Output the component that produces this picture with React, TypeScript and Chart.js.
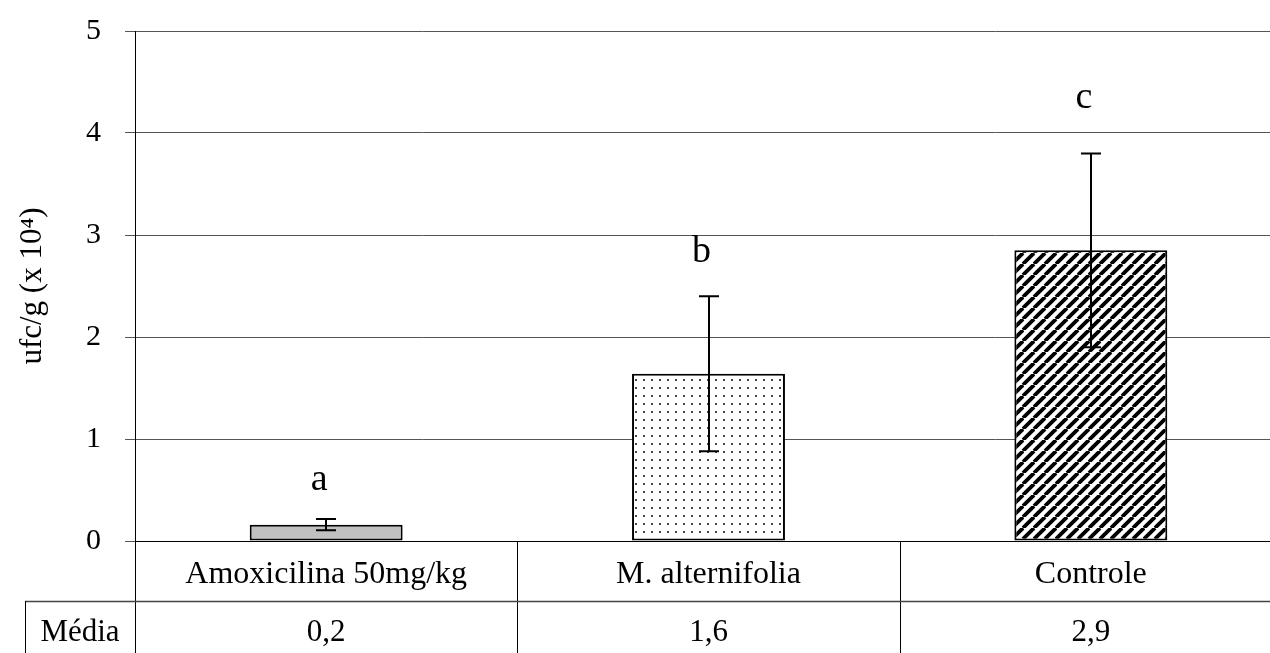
import React, { useEffect, useRef } from "react";
import { Chart, registerables } from "chart.js";

Chart.register(...registerables);

const categories = ["Amoxicilina 50mg/kg", "M. alternifolia", "Controle"];
const means = [0.16, 1.64, 2.85];
const errors = [0.055, 0.76, 0.95];
const letters = ["a", "b", "c"];
const letterLevels = [0.5, 2.74, 4.25];
const meanLabels = ["0,2", "1,6", "2,9"];
const rowLabel = "Média";
const yTitle = "ufc/g (x 10⁴)";
const yMin = 0;
const yMax = 5;
const yStep = 1;

const FONT = "'Liberation Serif', 'Times New Roman', serif";

function makeDots(): CanvasPattern | string {
  const c = document.createElement("canvas");
  c.width = 8;
  c.height = 8;
  const g = c.getContext("2d");
  if (!g) return "#eee";
  g.fillStyle = "#fff";
  g.fillRect(0, 0, 8, 8);
  g.fillStyle = "#444";
  g.fillRect(3, 3, 2, 2);
  return g.createPattern(c, "repeat") || "#eee";
}

function makeStripes(): CanvasPattern | string {
  const s = 11;
  const c = document.createElement("canvas");
  c.width = s;
  c.height = s;
  const g = c.getContext("2d");
  if (!g) return "#666";
  g.fillStyle = "#fff";
  g.fillRect(0, 0, s, s);
  g.strokeStyle = "#000";
  g.lineWidth = 3.8;
  for (const k of [-1, 0, 1]) {
    g.beginPath();
    g.moveTo(k * s, s);
    g.lineTo(k * s + s, 0);
    g.stroke();
  }
  return g.createPattern(c, "repeat") || "#666";
}

const overlayPlugin = {
  id: "overlay",
  afterDatasetsDraw(chart: any) {
    const { ctx, scales } = chart;
    const y = scales.y;
    const meta = chart.getDatasetMeta(0);
    ctx.save();
    ctx.strokeStyle = "#000";
    ctx.lineWidth = 2;
    meta.data.forEach((bar: any, i: number) => {
      const x = Math.round(bar.x);
      const top = y.getPixelForValue(means[i] + errors[i]);
      const bot = y.getPixelForValue(means[i] - errors[i]);
      ctx.beginPath();
      ctx.moveTo(x, top);
      ctx.lineTo(x, bot);
      ctx.moveTo(x - 10, top);
      ctx.lineTo(x + 10, top);
      ctx.moveTo(x - 10, bot);
      ctx.lineTo(x + 10, bot);
      ctx.stroke();
    });
    ctx.fillStyle = "#000";
    ctx.font = `38px ${FONT}`;
    ctx.textAlign = "center";
    ctx.textBaseline = "alphabetic";
    meta.data.forEach((bar: any, i: number) => {
      ctx.fillText(letters[i], bar.x - 7, y.getPixelForValue(letterLevels[i]));
    });
    ctx.restore();
  },
  afterDraw(chart: any) {
    const { ctx, chartArea, scales, height, width } = chart;
    const x = scales.x;
    const bottom = chartArea.bottom;
    const rowY = bottom + 60;
    ctx.save();
    ctx.strokeStyle = "#000";
    ctx.lineWidth = 1;
    ctx.beginPath();
    const ax = Math.round(chartArea.left) + 0.5;
    ctx.moveTo(ax, bottom);
    ctx.lineTo(ax, height);
    for (let i = 0; i < categories.length; i++) {
      const bx = Math.round(x.getPixelForValue(i + 0.5)) + 0.5;
      ctx.moveTo(bx, bottom);
      ctx.lineTo(bx, height);
    }
    ctx.stroke();
    ctx.strokeStyle = "#444";
    ctx.lineWidth = 1.5;
    ctx.beginPath();
    ctx.moveTo(25, rowY + 0.5);
    ctx.lineTo(width, rowY + 0.5);
    ctx.stroke();
    ctx.strokeStyle = "#000";
    ctx.lineWidth = 1;
    ctx.beginPath();
    ctx.moveTo(25.5, rowY);
    ctx.lineTo(25.5, height);
    ctx.stroke();

    ctx.fillStyle = "#000";
    ctx.font = `31px ${FONT}`;
    ctx.textAlign = "center";
    ctx.textBaseline = "alphabetic";
    ctx.fillText(rowLabel, (25 + chartArea.left) / 2, rowY + 40);
    meanLabels.forEach((t, i) => {
      ctx.fillText(t, x.getPixelForValue(i), rowY + 40);
    });
    ctx.restore();
  },
};

export default function App() {
  const ref = useRef<HTMLCanvasElement | null>(null);

  useEffect(() => {
    if (!ref.current) return;
    const chart = new Chart(ref.current, {
      type: "bar",
      data: {
        labels: categories,
        datasets: [
          {
            data: means,
            backgroundColor: ["#c0c0c0", makeDots(), makeStripes()] as any,
            borderColor: "#000",
            borderWidth: 2,
            borderSkipped: false,
            barPercentage: 0.4,
            categoryPercentage: 1,
          },
        ],
      },
      options: {
        responsive: false,
        animation: false,
        devicePixelRatio: 1,
        layout: { padding: { top: 31, right: 8, left: 0, bottom: 0 } },
        plugins: {
          legend: { display: false },
          tooltip: { enabled: false },
        },
        scales: {
          x: {
            offset: true,
            grid: { display: false, drawTicks: false },
            border: { display: true, color: "#000", width: 1 },
            ticks: {
              color: "#000",
              font: { family: FONT, size: 32 },
              padding: 14,
              maxRotation: 0,
              autoSkip: false,
            },
            afterFit(scale: any) {
              scale.height = 112;
            },
          },
          y: {
            min: yMin,
            max: yMax,
            border: { display: true, color: "#000", width: 1 },
            grid: { color: "#555", tickLength: 10, lineWidth: 1 },
            ticks: {
              stepSize: yStep,
              color: "#000",
              font: { family: FONT, size: 30 },
              padding: 24,
            },
            title: {
              display: true,
              text: yTitle,
              color: "#000",
              font: { family: FONT, size: 31 },
              padding: { top: 14, bottom: 0 },
            },
            afterFit(scale: any) {
              scale.width = 135;
              scale.paddingTop = 10;
              scale.paddingBottom = 10;
            },
          },
        },
      },
      plugins: [overlayPlugin],
    });
    return () => chart.destroy();
  }, []);

  return (
    <div
      style={{
        position: "fixed",
        left: 0,
        top: 0,
        width: 1270,
        height: 653,
        overflow: "hidden",
        background: "#fff",
      }}
    >
      <canvas ref={ref} width={1290} height={653} style={{ display: "block" }} />
    </div>
  );
}
